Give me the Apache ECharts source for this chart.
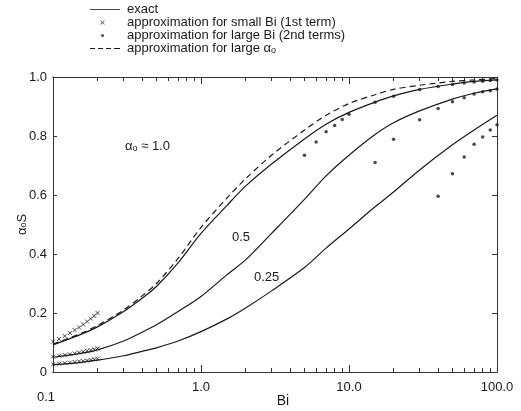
<!DOCTYPE html>
<html>
<head>
<meta charset="utf-8">
<script src="https://cdn.jsdelivr.net/npm/echarts@6.0.0/dist/echarts.min.js"></script>
<style>
    html, body { margin: 0; padding: 0; background: #fff; }
    #chart { width: 521px; height: 411px; }
</style>
</head>
<body>
<div id="chart"></div>
<script>
// exact curves
var biCurve = [0.1, 0.15, 0.2, 0.3, 0.4, 0.5, 0.7, 1, 1.5, 2, 3, 5, 7, 10, 15, 20, 30, 50, 70, 100];
var exact100 = [0.092, 0.125, 0.153, 0.205, 0.25, 0.29, 0.37, 0.47, 0.565, 0.63, 0.705, 0.79, 0.84, 0.88, 0.915, 0.936, 0.958, 0.976, 0.985, 0.99];
var exact050 = [0.05, 0.062, 0.075, 0.105, 0.135, 0.16, 0.205, 0.256, 0.33, 0.38, 0.47, 0.585, 0.665, 0.735, 0.805, 0.845, 0.885, 0.925, 0.945, 0.96];
var exact025 = [0.025, 0.032, 0.04, 0.055, 0.07, 0.082, 0.105, 0.137, 0.18, 0.217, 0.275, 0.354, 0.42, 0.485, 0.56, 0.61, 0.685, 0.77, 0.82, 0.87];
// approximation for large alpha0 (alpha0 = 1.0)
var largeAlpha100 = [0.095, 0.128, 0.158, 0.21, 0.258, 0.30, 0.385, 0.49, 0.59, 0.655, 0.735, 0.82, 0.87, 0.91, 0.94, 0.958, 0.972, 0.985, 0.99, 0.995];

// small Bi approximation (1st term)
var biSmall = [0.1, 0.11, 0.12, 0.13, 0.14, 0.15, 0.16, 0.17, 0.18, 0.19, 0.2];
var small100 = [0.103, 0.112, 0.122, 0.132, 0.142, 0.151, 0.161, 0.171, 0.181, 0.19, 0.2];
var small050 = [0.052, 0.055, 0.058, 0.06, 0.063, 0.066, 0.069, 0.072, 0.074, 0.077, 0.08];
var small025 = [0.026, 0.028, 0.03, 0.032, 0.034, 0.036, 0.037, 0.039, 0.041, 0.043, 0.045];

// large Bi approximation (2nd terms)
var biLarge100 = [5, 6, 7, 8, 9, 10, 15, 20, 30, 40, 50, 60, 70, 80, 90, 100];
var large100 = [0.735, 0.78, 0.814, 0.836, 0.856, 0.874, 0.914, 0.935, 0.958, 0.968, 0.975, 0.98, 0.983, 0.986, 0.988, 0.99];
var biLarge050 = [15, 20, 30, 40, 50, 60, 70, 80, 90, 100];
var large050 = [0.71, 0.789, 0.855, 0.893, 0.916, 0.93, 0.942, 0.95, 0.953, 0.959];
var biLarge025 = [40, 50, 60, 70, 80, 90, 100];
var large025 = [0.596, 0.672, 0.729, 0.772, 0.797, 0.82, 0.838];

// ticks
var xMajor = [0.1, 1, 10, 100];
var xMinor = [0.2, 0.3, 0.4, 0.5, 0.6, 0.7, 0.8, 0.9, 2, 3, 4, 5, 6, 7, 8, 9, 20, 30, 40, 50, 60, 70, 80, 90];

var legendText = {
    exact: 'exact',
    small: 'approximation for small Bi (1st term)',
    large: 'approximation for large Bi (2nd terms)',
    alpha: '{n|approximation for large α}{s|o}'
};

(function() {
    var myChart = echarts.init(document.getElementById('chart'));
    var ink = '#1a1a1a';
    var font = 'Liberation Sans, Arial, sans-serif';

    function pairs(xs, ys) {
        return xs.map(function(x, i) { return [x, ys[i]]; });
    }

    function curve(name, ys, dashed) {
        return {
            name: name,
            type: 'line',
            data: pairs(biCurve, ys),
            symbol: 'none',
            smooth: 0.3,
            itemStyle: { color: ink },
            lineStyle: { color: ink, width: 1.2, type: dashed ? [6, 4] : 'solid' },
            z: 3
        };
    }

    var crossSym = 'path://M0,0L10,10M10,0L0,10';
    function small(ys) {
        return {
            name: 'small',
            type: 'scatter',
            data: pairs(biSmall, ys),
            symbol: crossSym,
            symbolSize: 4,
            itemStyle: { color: 'transparent', borderColor: ink, borderWidth: 1 }
        };
    }
    function large(xs, ys) {
        return {
            name: 'large',
            type: 'scatter',
            data: pairs(xs, ys),
            symbol: 'circle',
            symbolSize: 3.5,
            itemStyle: { color: ink }
        };
    }

    var xBase = {
        type: 'log',
        logBase: 10,
        min: 0.1,
        max: 100,
        splitLine: { show: false },
        axisLine: { show: true, lineStyle: { color: '#333', width: 1 } }
    };

    var iconStyle = { color: ink, borderWidth: 0 };

    var option = {
        animation: false,
        textStyle: { fontFamily: font },
        grid: { left: 53, right: 24, top: 77, bottom: 39, outerBoundsMode: 'none', containLabel: false },
        legend: {
            orient: 'vertical',
            left: 85,
            top: -2,
            itemGap: 0,
            itemWidth: 32,
            itemHeight: 10,
            data: [
                { name: 'exact', icon: 'path://M0,0M32,10M0,4.6L30,4.6L30,5.4L0,5.4Z', itemStyle: iconStyle },
                { name: 'small', icon: 'path://M0,0M32,10M10,3L11,3L12.5,4.5L14,3L15,3L13,5L15,7L14,7L12.5,5.5L11,7L10,7L12,5Z', itemStyle: iconStyle },
                { name: 'large', icon: 'path://M0,0M32,10M11,5a1.5,1.5 0 1,0 3,0a1.5,1.5 0 1,0 -3,0Z', itemStyle: iconStyle },
                { name: 'alpha', icon: 'path://M0,0M32,10M0,4.5h5v1h-5zM8,4.5h5v1h-5zM16,4.5h5v1h-5zM24,4.5h6v1h-6z', itemStyle: iconStyle }
            ],
            formatter: function(name) { return legendText[name]; },
            textStyle: {
                fontSize: 13,
                color: ink,
                rich: {
                    n: { fontSize: 13, color: ink },
                    s: { fontSize: 9, color: ink, padding: [4, 0, 0, 0] }
                }
            }
        },
        xAxis: [
            Object.assign({}, xBase, {
                position: 'bottom',
                name: 'Bi',
                nameLocation: 'middle',
                nameGap: 22,
                nameMoveOverlap: false,
                nameTextStyle: { fontSize: 14, color: ink, padding: [0, 0, 0, 16] },
                axisTick: { show: true, inside: true, length: 7, customValues: xMajor, lineStyle: { color: '#333' } },
                axisLabel: {
                    customValues: xMajor,
                    fontSize: 13,
                    color: ink,
                    margin: 9,
                    formatter: function(v) {
                        if (v < 0.5) return '{c|0.1}';
                        return v.toFixed(1);
                    },
                    rich: { c: { fontSize: 13, color: ink, padding: [10, 14, 0, 0] } }
                }
            }),
            Object.assign({}, xBase, {
                position: 'bottom',
                axisTick: { show: true, inside: true, length: 4, customValues: xMinor, lineStyle: { color: '#333' } },
                axisLabel: { show: false }
            }),
            Object.assign({}, xBase, {
                position: 'top',
                axisTick: { show: true, inside: true, length: 7, customValues: xMajor, lineStyle: { color: '#333' } },
                axisLabel: { show: false }
            }),
            Object.assign({}, xBase, {
                position: 'top',
                axisTick: { show: true, inside: true, length: 4, customValues: xMinor, lineStyle: { color: '#333' } },
                axisLabel: { show: false }
            })
        ],
        yAxis: [{
            type: 'value',
            position: 'left',
            min: 0,
            max: 1,
            interval: 0.2,
            name: '{a|α}{b|o}{a|S}',
            nameLocation: 'middle',
            nameGap: 24,
            nameMoveOverlap: false,
            nameRotate: 90,
            nameTextStyle: {
                rich: {
                    a: { fontSize: 13, color: ink },
                    b: { fontSize: 9, color: ink, padding: [0, 0, -3, 0] }
                }
            },
            splitLine: { show: false },
            axisLine: { show: true, lineStyle: { color: '#333', width: 1 } },
            axisTick: { show: true, inside: true, length: 4, lineStyle: { color: '#333' } },
            axisLabel: {
                fontSize: 13,
                color: ink,
                margin: 6,
                formatter: function(v) { return v === 0 ? '0' : v.toFixed(1); }
            }
        }, {
            type: 'value',
            position: 'right',
            min: 0,
            max: 1,
            interval: 0.2,
            splitLine: { show: false },
            axisLine: { show: true, lineStyle: { color: '#333', width: 1 } },
            axisTick: { show: true, inside: true, length: 5, lineStyle: { color: '#333' } },
            axisLabel: { show: false }
        }],
        graphic: [
            { type: 'text', left: 125, top: 140, style: { text: '{a|α}{b|o}{a| ≈ 1.0}', fill: ink, rich: { a: { fontSize: 13, fontFamily: font, fill: ink }, b: { fontSize: 9, fontFamily: font, fill: ink, padding: [4, 0, 0, 0] } } } },
            { type: 'text', left: 232, top: 231, style: { text: '0.5', fontSize: 13, fontFamily: font, fill: ink } },
            { type: 'text', left: 254, top: 271, style: { text: '0.25', fontSize: 13, fontFamily: font, fill: ink } }
        ],
        series: [
            curve('exact', exact100),
            curve('exact', exact050),
            curve('exact', exact025),
            curve('alpha', largeAlpha100, true),
            small(small100),
            small(small050),
            small(small025),
            large(biLarge100, large100),
            large(biLarge050, large050),
            large(biLarge025, large025)
        ]
    };

    myChart.setOption(option);
    window.addEventListener('resize', function() {
        myChart.resize();
    });
})();
</script>
</body>
</html>
